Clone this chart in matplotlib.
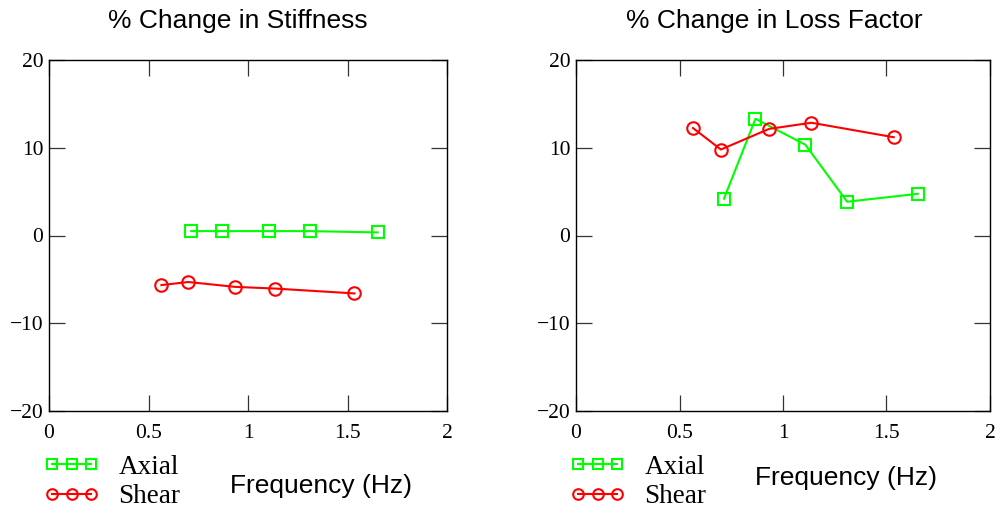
import matplotlib
matplotlib.use("Agg")
import matplotlib.pyplot as plt

# frequencies (Hz)
freq_axial = [0.715, 0.867, 1.108, 1.310, 1.651]
freq_shear = [0.565, 0.700, 0.933, 1.137, 1.535]

# % change in stiffness
stiff_axial = [0.5, 0.5, 0.5, 0.5, 0.35]
stiff_shear = [-5.65, -5.3, -5.85, -6.05, -6.6]

# % change in loss factor
loss_axial = [4.2, 13.3, 10.35, 3.85, 4.75]
loss_shear = [12.25, 9.8, 12.15, 12.85, 11.2]

titles = ["% Change in Stiffness", "% Change in Loss Factor"]
xticks = [0, 0.5, 1, 1.5, 2]
yticks = [-20, -10, 0, 10, 20]

W, H = 1002, 508
fig = plt.figure(figsize=(W / 100, H / 100), dpi=100)

serif = "Liberation Serif"
sans = "Liberation Sans"

axes_px = [(49, 447), (576, 990)]
top_px, bot_px = 60, 411
title_pos = [(238, 21), (774, 21)]
xlabel_pos = [(321, 486), (846, 478)]
legend_pos = [(44, 482), (570, 482)]

data = [(stiff_axial, stiff_shear), (loss_axial, loss_shear)]

for i in range(2):
    l, r = axes_px[i]
    ax = fig.add_axes([l / W, 1 - bot_px / H, (r - l) / W, (bot_px - top_px) / H])
    ya, ys = data[i]
    ax.plot(freq_axial, ya, color="#00ff00", lw=1.5, marker="s", ms=8,
            mfc="none", mew=1.5, label="Axial")
    ax.plot(freq_shear, ys, color="#ff0000", lw=1.5, marker="o", ms=9,
            mfc="none", mew=1.5, label="Shear")
    ax.set_xlim(0, 2)
    ax.set_ylim(-20, 20)
    ax.set_xticks(xticks)
    ax.set_yticks(yticks)
    ax.set_xticklabels(["0", "0.5", "1", "1.5", "2"])
    ax.set_yticklabels(["\u221220", "\u221210", "0", "10", "20"])
    ax.tick_params(axis="both", direction="in", length=11.5, width=0.9,
                   color="#333333", top=True, right=True, labelsize=15.5)
    ax.tick_params(axis="x", pad=9)
    ax.tick_params(axis="y", pad=4)
    for lab in ax.get_xticklabels() + ax.get_yticklabels():
        lab.set_fontfamily(serif)
    for sp in ax.spines.values():
        sp.set_linewidth(1.0)

    fig.text(title_pos[i][0] / W, 1 - title_pos[i][1] / H, titles[i],
             ha="center", va="center", fontsize=19, family=sans)
    fig.text(xlabel_pos[i][0] / W, 1 - xlabel_pos[i][1] / H, "Frequency (Hz)",
             ha="center", va="center", fontsize=19, family=sans)

    ax.legend(loc="center left",
              bbox_to_anchor=(legend_pos[i][0] / W, 1 - legend_pos[i][1] / H),
              bbox_transform=fig.transFigure, frameon=False, numpoints=3,
              markerscale=0.85, handlelength=2.05, handletextpad=0.7,
              labelspacing=0.15, borderpad=0, borderaxespad=0,
              prop={"family": serif, "size": 19.5})

fig.savefig("out.png", dpi=100)
